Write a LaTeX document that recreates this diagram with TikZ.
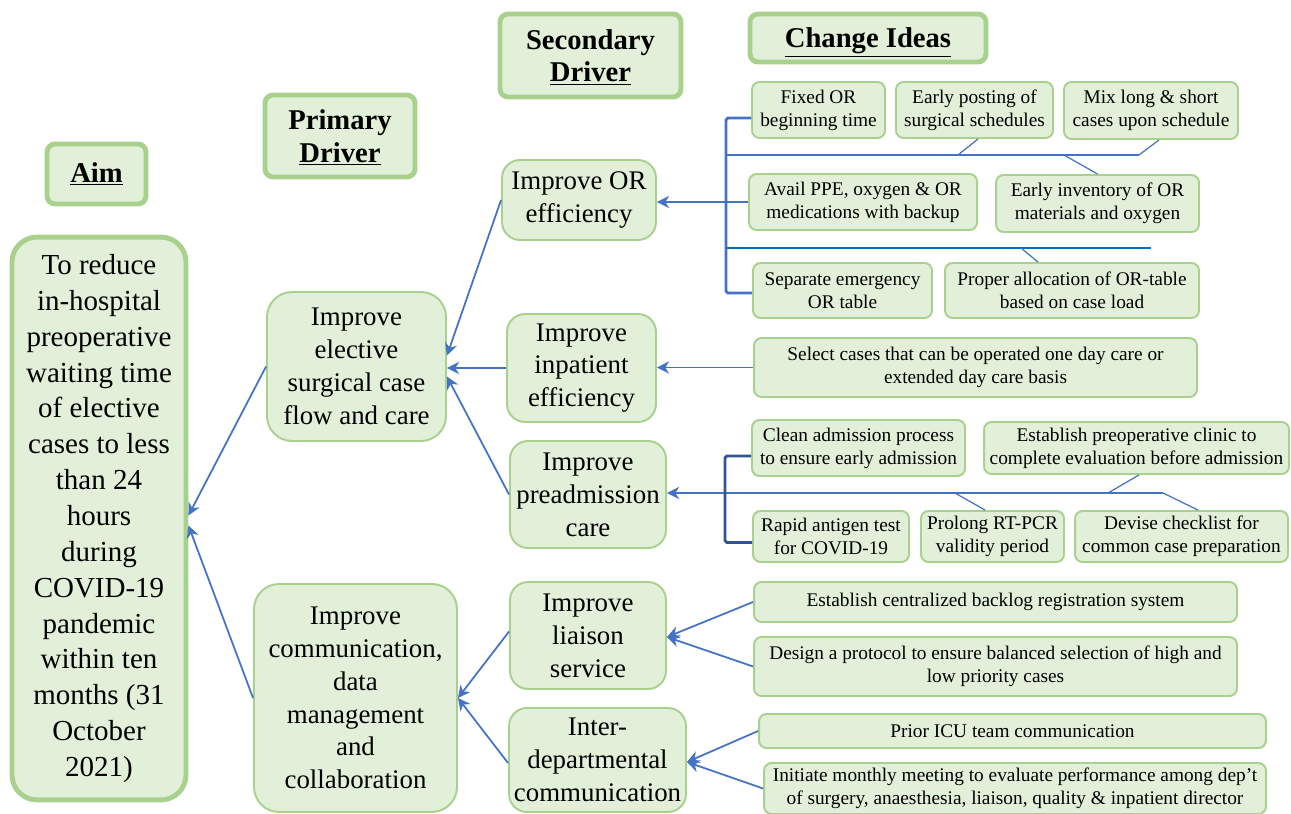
\documentclass[tikz,border=0pt]{standalone}
\usepackage{fontspec}
\setmainfont{Liberation Serif}
\usetikzlibrary{arrows.meta,calc}
\definecolor{boxfill}{HTML}{E2F0D9}
\definecolor{boxline}{HTML}{A9D18E}
\definecolor{linkblue}{HTML}{4472C4}
\definecolor{busblue}{HTML}{0070C0}
\definecolor{brackblue}{HTML}{2F5597}
\tikzset{
  header/.style={draw=boxline, line width=2.8pt, fill=boxfill, rounded corners=0.16cm,
    inner sep=0pt, align=center, font=\fontsize{16.3}{18.3}\selectfont\bfseries},
  aimbox/.style={draw=boxline, line width=2.8pt, fill=boxfill, rounded corners=0.5cm,
    inner sep=0pt, align=center, font=\fontsize{16.5}{20.4}\selectfont},
  primbox/.style={draw=boxline, line width=1.1pt, fill=boxfill, rounded corners=0.5cm,
    inner sep=0pt, align=center, font=\fontsize{15.3}{18.7}\selectfont},
  secbox/.style={draw=boxline, line width=1.1pt, fill=boxfill, rounded corners=0.36cm,
    inner sep=0pt, align=center, font=\fontsize{15.3}{18.7}\selectfont},
  idea/.style={draw=boxline, line width=1.1pt, fill=boxfill, rounded corners=0.15cm,
    inner sep=0pt, align=center, font=\fontsize{11}{13}\selectfont},
  link/.style={draw=linkblue, line width=1pt, -{Stealth[length=7pt,width=7pt]}},
  thin link/.style={draw=linkblue, line width=0.7pt},
  bus/.style={draw=linkblue, line width=1.2pt},
  bracket/.style={draw=linkblue, line width=1.6pt, rounded corners=1pt}
}
\begin{document}
\begin{tikzpicture}[x=0.02cm, y=-0.02cm]
  \useasboundingbox (0,0) rectangle (1291,814);

  % Column headers
  \node[header, minimum width=1.98cm, minimum height=1.2cm] (aimhd) at (96.5,174) {\underline{Aim}};
  \node[header, text depth=0pt, minimum width=3.0cm, minimum height=1.64cm] (primhd) at (340,136) {Primary\\\underline{Driver}};
  \node[header, text depth=0pt, minimum width=3.62cm, minimum height=1.66cm] (sechd) at (590.5,55.5) {Secondary\\\underline{Driver}};
  \node[header, text depth=0pt, minimum width=4.72cm, minimum height=0.96cm] (ideahd) at (868,38) {\underline{Change Ideas}};

  % Aim
  \node[aimbox, minimum width=3.48cm, minimum height=11.26cm] (aim) at (99,518.5)
    {To reduce\\in-hospital\\preoperative\\waiting time\\of elective\\cases to less\\than 24\\hours\\during\\COVID-19\\pandemic\\within ten\\months (31\\October\\2021)};

  % Primary drivers
  \node[primbox, minimum width=3.58cm, minimum height=2.98cm] (flow) at (356.5,366.5)
    {Improve\\elective\\surgical case\\flow and care};
  \node[primbox, minimum width=4.06cm, minimum height=4.56cm] (comm) at (355.5,698)
    {Improve\\communication,\\data\\management\\and\\collaboration};

  % Secondary drivers
  \node[secbox, minimum width=3.08cm, minimum height=1.6cm] (oreff) at (579,200) {Improve OR\\efficiency};
  \node[secbox, minimum width=2.98cm, minimum height=2.16cm] (inpat) at (581.5,368) {Improve\\inpatient\\efficiency};
  \node[secbox, minimum width=3.12cm, minimum height=2.14cm] (preadm) at (588,494.5) {Improve\\preadmission\\care};
  \node[secbox, minimum width=3.12cm, minimum height=2.14cm] (liaison) at (588,635.5) {Improve\\liaison\\service};
  \node[secbox, minimum width=3.54cm, minimum height=2.08cm] (interdep) at (597.5,760) {Inter-\\departmental\\communication};

  % Change ideas, OR efficiency
  \node[idea, minimum width=2.66cm, minimum height=1.12cm] (fixedor) at (818.5,110) {Fixed OR\\beginning time};
  \node[idea, minimum width=3.14cm, minimum height=1.12cm] (posting) at (974.5,110) {Early posting of\\surgical schedules};
  \node[idea, minimum width=3.48cm, minimum height=1.14cm] (mixcases) at (1151,110.5) {Mix long \& short\\cases upon schedule};
  \node[idea, minimum width=4.56cm, minimum height=1.12cm] (availppe) at (863,202) {Avail PPE, oxygen \& OR\\medications with backup};
  \node[idea, minimum width=4.06cm, minimum height=1.14cm] (inventory) at (1097.5,203.5) {Early inventory of OR\\materials and oxygen};
  \node[idea, minimum width=3.58cm, minimum height=1.1cm] (emtable) at (842.5,290.5) {Separate emergency\\OR table};
  \node[idea, minimum width=5.08cm, minimum height=1.1cm] (allocation) at (1072,290.5) {Proper allocation of OR-table\\based on case load};

  % Change ideas, inpatient
  \node[idea, minimum width=8.86cm, minimum height=1.18cm] (daycare) at (975.5,367.5)
    {Select cases that can be operated one day care or\\extended day care basis};

  % Change ideas, preadmission
  \node[idea, minimum width=4.26cm, minimum height=1.12cm] (cleanadm) at (858.5,448) {Clean admission process\\to ensure early admission};
  \node[idea, minimum width=6.1cm, minimum height=1.04cm] (clinic) at (1136.5,448) {Establish preoperative clinic to\\complete evaluation before admission};
  \node[idea, minimum width=3.12cm, minimum height=1.02cm] (antigen) at (831,536.5) {Rapid antigen test\\for COVID-19};
  \node[idea, minimum width=2.86cm, minimum height=1.02cm] (rtpcr) at (992.5,536.5) {Prolong RT-PCR\\validity period};
  \node[idea, minimum width=4.26cm, minimum height=1.02cm] (checklist) at (1181.5,536.5) {Devise checklist for\\common case preparation};

  % Change ideas, liaison and communication
  \node[idea, minimum width=9.66cm, minimum height=0.8cm] (backlog) at (995.5,602) {Establish centralized backlog registration system};
  \node[idea, minimum width=9.66cm, minimum height=1.18cm] (protocol) at (995.5,666.5)
    {Design a protocol to ensure balanced selection of high and\\low priority cases};
  \node[idea, minimum width=10.14cm, minimum height=0.68cm] (icu) at (1012.5,731) {Prior ICU team communication};
  \node[idea, minimum width=10.04cm, minimum height=1.02cm] (meeting) at (1015,788.5)
    {Initiate monthly meeting to evaluate performance among dep’t\\of surgery, anaesthesia, liaison, quality \& inpatient director};

  % Drivers to aim
  \draw[link] (flow.west) -- ($(aim.east)+(0,-3)$);
  \draw[link] (comm.west) -- ($(aim.east)+(0,7)$);

  % Secondary to primary
  \draw[link] (oreff.west) -- ($(flow.east)+(0,-11)$);
  \draw[link] (inpat.west) -- (inpat.west -| flow.east);
  \draw[link] (preadm.west) -- ($(flow.east)+(0,10)$);
  \draw[link] ($(liaison.west)+(0,-4)$) -- (comm.east);
  \draw[link] ($(interdep.west)+(0,3)$) -- (comm.east);

  % OR efficiency ideas
  \coordinate (busa) at (727,155);
  \coordinate (busaend) at (1139,155);
  \coordinate (busb) at (727,248);
  \coordinate (busbend) at (1151,248);
  \draw[link] (availppe.west) -- (availppe.west -| oreff.east);
  \draw[bracket] ($(fixedor.west)+(0,8)$) -- ++(-25,0) |- ($(emtable.west)+(0,2.5)$);
  \draw[bus] (busa) -- (busaend);
  \draw[bus, draw=busblue, line width=1.6pt] (busb) -- (busbend);
  \draw[thin link] (958,155) -- ($(posting.south)+(3.5,0)$);
  \draw[thin link] (busaend) -- ($(mixcases.south)+(8,0)$);
  \draw[thin link] (1064,155) -- (inventory.north);
  \draw[thin link] (1021,248) -- ($(allocation.north)+(-34,0)$);

  % Inpatient idea
  \draw[link] (daycare.west) -- (daycare.west -| inpat.east);

  % Preadmission ideas
  \coordinate (prebus) at (1163,493);
  \draw[link, line width=1.2pt] (prebus) -- (prebus -| preadm.east);
  \draw[bracket, draw=brackblue] ($(cleanadm.west)+(0,8)$) -- ++(-26,0) |- ($(antigen.west)+(0,6)$);
  \draw[thin link] ($(clinic.south)+(2.5,0)$) -- (1108,493);
  \draw[thin link] (955,493) -- ($(rtpcr.north)+(-7.5,0)$);
  \draw[thin link] (prebus) -- ($(checklist.north)+(16.5,0)$);

  % Liaison and communication ideas
  \draw[link] (backlog.west) -- ($(liaison.east)+(0,1.5)$);
  \draw[link] (protocol.west) -- ($(liaison.east)+(0,1.5)$);
  \draw[link] (icu.west) -- ($(interdep.east)+(0,2)$);
  \draw[link] (meeting.west) -- ($(interdep.east)+(0,2)$);
\end{tikzpicture}
\end{document}
